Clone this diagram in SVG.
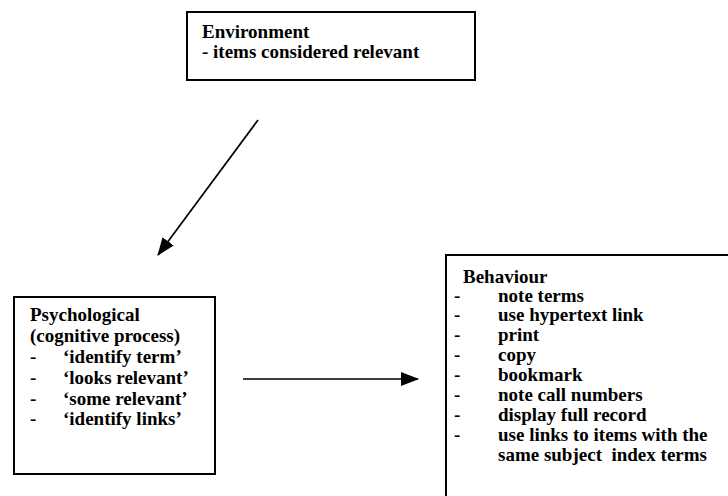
<svg xmlns="http://www.w3.org/2000/svg" width="728" height="496" viewBox="0 0 728 496">
  <style>
    .box { fill: #ffffff; stroke: #000000; stroke-width: 2; }
    .lbl { font-family: "Liberation Serif", "Times New Roman", serif; font-size: 19px; font-weight: bold; fill: #000000; }
    .edge { stroke: #000000; stroke-width: 1.7; fill: none; }
  </style>
  <defs>
    <marker id="head" viewBox="0 0 18 14" refX="17" refY="7" markerWidth="18" markerHeight="14" markerUnits="userSpaceOnUse" orient="auto">
      <path d="M0,0 L18,7 L0,14 Z" fill="#000000"/>
    </marker>
  </defs>

  <rect width="728" height="496" fill="#ffffff"/>

  <g id="environment">
    <rect class="box" x="187" y="12" width="288" height="68"/>
    <text class="lbl" x="202" y="38">Environment</text>
    <text class="lbl" x="202" y="58">- items considered relevant</text>
  </g>

  <g id="psychological">
    <rect class="box" x="14" y="297" width="201" height="177"/>
    <text class="lbl" x="30" y="321">Psychological</text>
    <text class="lbl" x="30" y="342">(cognitive process)</text>
    <text class="lbl" x="30" y="363">-</text>
    <text class="lbl" x="63" y="363">‘identify term’</text>
    <text class="lbl" x="30" y="384">-</text>
    <text class="lbl" x="63" y="384">‘looks relevant’</text>
    <text class="lbl" x="30" y="405">-</text>
    <text class="lbl" x="63" y="405">‘some relevant’</text>
    <text class="lbl" x="30" y="425">-</text>
    <text class="lbl" x="63" y="425">‘identify links’</text>
  </g>

  <g id="behaviour">
    <rect class="box" x="446" y="255" width="300" height="260"/>
    <text class="lbl" x="463" y="283">Behaviour</text>
    <text class="lbl" x="454" y="302">-</text>
    <text class="lbl" x="498" y="302">note terms</text>
    <text class="lbl" x="454" y="321">-</text>
    <text class="lbl" x="498" y="321">use hypertext link</text>
    <text class="lbl" x="454" y="341">-</text>
    <text class="lbl" x="498" y="341">print</text>
    <text class="lbl" x="454" y="361">-</text>
    <text class="lbl" x="498" y="361">copy</text>
    <text class="lbl" x="454" y="381">-</text>
    <text class="lbl" x="498" y="381">bookmark</text>
    <text class="lbl" x="454" y="401">-</text>
    <text class="lbl" x="498" y="401">note call numbers</text>
    <text class="lbl" x="454" y="421">-</text>
    <text class="lbl" x="498" y="421">display full record</text>
    <text class="lbl" x="454" y="441">-</text>
    <text class="lbl" x="498" y="441">use links to items with the</text>
    <text class="lbl" x="498" y="461" xml:space="preserve">same subject  index terms</text>
  </g>

  <g id="connectors">
    <line class="edge" x1="258" y1="120" x2="158" y2="255" marker-end="url(#head)"/>
    <line class="edge" x1="243" y1="379" x2="418" y2="379" marker-end="url(#head)"/>
  </g>
</svg>
